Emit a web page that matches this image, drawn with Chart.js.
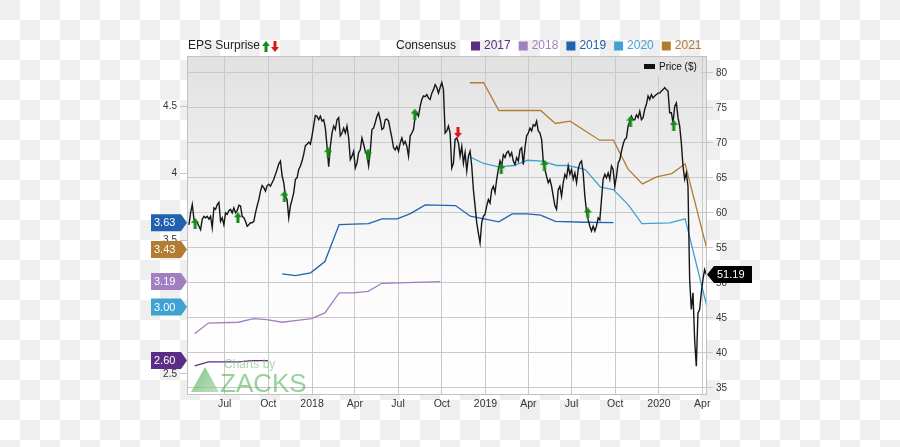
<!DOCTYPE html>
<html>
<head>
<meta charset="utf-8">
<script src="https://cdn.jsdelivr.net/npm/chart.js@4.4.0/dist/chart.umd.min.js"></script>
<style>
  html, body { margin: 0; padding: 0; background: #fff; }
  #wrap { width: 900px; height: 447px; }
</style>
</head>
<body>
<div id="wrap"><canvas id="chart" width="900" height="447"></canvas></div>
<script>
// ---- data ----
const axisStart = '2017-04-15';
const axisEnd = '2020-04-11';

const monthTickDates = ['2017-07-01','2017-10-01','2018-01-01','2018-04-01','2018-07-01','2018-10-01',
  '2019-01-01','2019-04-01','2019-07-01','2019-10-01','2020-01-01','2020-04-01'];
const monthTickLabels = ['Jul','Oct','2018','Apr','Jul','Oct','2019','Apr','Jul','Oct','2020','Apr'];
const epsTicks = [2.5, 3, 3.5, 4, 4.5];
const priceTicks = [35, 40, 45, 50, 55, 60, 65, 70, 75, 80];

// price, sampled twice a week
const priceStart = '2017-04-17';
const priceStepDays = 3.5;
const prices = [
  58.3, 60.0, 61.2, 59.1, 58.8, 58.6, 58.1, 57.6, 59.1, 59.5,
  59.3, 59.5, 59.1, 59.5, 57.9, 60.7, 60.5, 61.2, 61.5, 58.8,
  59.3, 58.3, 60.0, 59.8, 60.3, 60.5, 60.0, 60.7, 60.0, 60.3,
  61.1, 61.0, 59.5, 59.3, 58.8, 58.1, 58.3, 58.6, 58.6, 58.8,
  60.0, 61.0, 61.9, 63.1, 63.9, 63.6, 63.1, 63.9, 64.1, 63.8,
  64.3, 64.8, 65.5, 66.2, 67.0, 67.4, 65.3, 64.3, 62.4, 61.9,
  59.3, 61.0, 61.9, 62.9, 64.8, 65.0, 66.2, 66.7, 67.4, 68.4,
  69.6, 69.8, 70.1, 69.8, 71.0, 72.5, 73.9,
  73.8, 73.3, 73.8, 73.1, 73.3, 72.1, 69.5, 66.6, 69.5, 71.4,
  72.4, 71.9, 73.3, 73.6, 71.0, 71.4, 72.1, 71.4, 72.4, 70.7,
  67.6, 68.1, 68.8, 66.4, 67.1, 68.6, 69.0, 70.7, 69.8, 68.8,
  68.3, 66.7, 68.8, 71.9, 72.1, 72.9, 73.8, 74.3, 73.3, 71.9,
  72.1, 73.3, 73.4, 73.1, 71.9, 70.7, 69.3, 69.0, 69.5, 68.8,
  70.0, 70.7, 69.8, 70.2, 69.5, 68.1, 71.0, 71.4, 71.9, 73.8,
  74.3, 73.8, 75.2, 76.2, 76.7, 76.6, 76.9, 76.4, 76.2, 77.1,
  77.6, 78.3, 77.9, 77.1, 77.9, 78.6, 77.6, 71.4, 71.7, 72.4,
  71.4, 66.4, 67.1, 70.5, 70.7, 70.0, 68.1, 69.5, 67.1, 68.6,
  66.0, 68.1, 68.8, 66.7, 63.3, 61.0, 58.6, 57.1, 55.7, 58.6,
  59.5, 59.8, 61.0, 61.9, 61.4, 63.3, 63.8, 62.9, 64.8, 66.2,
  67.4, 66.7, 68.3, 67.9, 68.6, 68.8, 68.1, 68.6, 67.4, 66.9,
  67.9, 67.4, 69.0, 69.3, 66.9, 69.3, 71.0, 71.4, 72.1, 71.7,
  72.6, 72.4, 73.1, 71.7, 71.4, 70.5, 67.4, 66.2, 65.2, 64.3,
  64.8, 63.8, 62.4, 61.0, 60.5, 63.3, 63.8, 62.4, 64.3, 65.5,
  65.0, 66.7, 65.5, 66.2, 64.8, 65.7, 64.3, 66.2,
  67.1, 67.4, 65.7, 62.4, 60.2, 59.0, 58.1, 57.4, 58.1, 57.4,
  58.1, 59.3, 59.0, 61.9, 64.8, 65.5, 65.0, 65.7, 64.8, 66.7,
  66.2, 63.8, 65.2, 67.1, 67.6, 68.8, 69.8, 70.5, 70.7, 72.4,
  73.1, 73.8, 73.3, 73.3, 74.0, 73.6, 74.5, 73.3, 73.6, 74.8,
  75.5, 76.7, 76.2, 76.9, 76.4, 76.7, 76.9, 77.1, 77.1, 77.4,
  77.6, 77.9, 77.6, 77.4, 74.3, 74.3, 72.9, 75.2, 75.7, 73.6,
  72.4, 70.0, 66.7, 64.8, 65.7, 63.8, 50.5, 46.2, 48.6, 41.9,
  38.1, 45.7, 46.2, 48.6, 50.5, 51.9, 51.19
];

// consensus EPS estimates per fiscal year
const cons2017Dates = ['2017-04-29','2017-05-28','2017-07-30','2017-08-28','2017-09-30'];
const cons2017Values = [2.56, 2.59, 2.59, 2.60, 2.60];

const cons2018Dates = ['2017-04-29','2017-05-28','2017-07-30','2017-08-31','2017-09-28','2017-10-30',
  '2017-12-01','2017-12-31','2018-01-28','2018-02-27','2018-03-29','2018-04-29','2018-05-28','2018-07-02','2018-09-28'];
const cons2018Values = [2.80, 2.88, 2.886, 2.913, 2.906, 2.886, 2.90, 2.913, 2.956, 3.105, 3.105, 3.117, 3.177, 3.18, 3.19];

const cons2019Dates = ['2017-10-30','2017-11-27','2017-12-29','2018-01-28','2018-02-27','2018-04-30','2018-05-28',
  '2018-06-29','2018-07-27','2018-08-27','2018-10-30','2018-11-30','2019-01-29','2019-02-26','2019-03-29',
  '2019-04-27','2019-05-28','2019-07-27','2019-09-27'];
const cons2019Values = [3.247, 3.235, 3.255, 3.34, 3.616, 3.623, 3.658, 3.658, 3.698, 3.763, 3.758, 3.678,
  3.636, 3.696, 3.696, 3.686, 3.64, 3.633, 3.63];

const cons2020Dates = ['2018-11-29','2018-12-28','2019-01-29','2019-03-01','2019-03-30','2019-04-29','2019-05-31',
  '2019-06-24','2019-07-30','2019-08-31','2019-09-27','2019-10-28','2019-11-26','2020-01-24','2020-02-25','2020-04-11'];
const cons2020Values = [4.122, 4.072, 4.047, 4.057, 4.096, 4.089, 4.057, 4.057, 4.027, 3.895, 3.877, 3.765,
  3.623, 3.628, 3.658, 3.00];

const cons2021Dates = ['2018-11-29','2018-12-28','2019-01-29','2019-04-27','2019-05-28','2019-06-28','2019-08-29',
  '2019-09-27','2019-10-28','2019-11-27','2019-12-27','2020-01-28','2020-02-25','2020-04-11'];
const cons2021Values = [4.675, 4.675, 4.468, 4.468, 4.371, 4.388, 4.246, 4.246, 4.03, 3.92, 3.972, 3.997, 4.07, 3.43];

const consensusYears = ['2017', '2018', '2019', '2020', '2021'];
const consensusColors = ['#5b2d84', '#a27fc1', '#2062b0', '#3fa2d0', '#b27c33'];

// EPS surprise markers (beat = up arrow, miss = down arrow)
const surpriseDates = ['2017-04-30','2017-07-29','2017-11-04','2018-02-04','2018-04-29','2018-08-05',
  '2018-11-04','2019-02-03','2019-05-05','2019-08-04','2019-11-02','2020-02-01'];
const surpriseLevels = [58.5, 59.3, 62.4, 68.6, 68.4, 74.1, 71.5, 66.3, 66.8, 60.0, 73.1, 72.5];
const surpriseBeat = [true, true, true, true, true, true, false, true, true, true, true, true];

// ---- helpers ----
const DAY = 864e5;
const t = s => Date.parse(s);
const FONT = "'Liberation Sans', Arial, sans-serif";
Chart.defaults.font.family = FONT;

function arrowIcon(up, color) {
  const c = document.createElement('canvas');
  c.width = 8; c.height = 11;
  const g = c.getContext('2d');
  g.fillStyle = color;
  g.beginPath();
  if (up) {
    g.moveTo(4, 0); g.lineTo(8, 5); g.lineTo(5.5, 5); g.lineTo(5.5, 11);
    g.lineTo(2.5, 11); g.lineTo(2.5, 5); g.lineTo(0, 5);
  } else {
    g.moveTo(4, 11); g.lineTo(8, 6); g.lineTo(5.5, 6); g.lineTo(5.5, 0);
    g.lineTo(2.5, 0); g.lineTo(2.5, 6); g.lineTo(0, 6);
  }
  g.closePath();
  g.fill();
  return c;
}
const upArrow = arrowIcon(true, '#168a16');
const downArrow = arrowIcon(false, '#e3141b');

const consensusData = [
  [cons2017Dates, cons2017Values], [cons2018Dates, cons2018Values], [cons2019Dates, cons2019Values],
  [cons2020Dates, cons2020Values], [cons2021Dates, cons2021Values]
];

const datasets = [];
datasets.push({
  label: 'EPS Surprise',
  type: 'scatter',
  yAxisID: 'price',
  data: surpriseDates.map((d, i) => ({ x: t(d), y: surpriseLevels[i] })),
  pointStyle: surpriseBeat.map(b => b ? upArrow : downArrow),
  pointRadius: 6,
  order: 0
});
datasets.push({
  label: 'Price ($)',
  yAxisID: 'price',
  data: prices.map((v, i) => ({ x: t(priceStart) + i * priceStepDays * DAY, y: v })),
  borderColor: '#161616',
  borderWidth: 1.4,
  pointRadius: 0,
  tension: 0,
  order: 1
});
consensusData.forEach(([dates, vals], i) => {
  datasets.push({
    label: consensusYears[i],
    yAxisID: 'eps',
    data: dates.map((d, j) => ({ x: t(d), y: vals[j] })),
    borderColor: consensusColors[i],
    borderWidth: 1.3,
    pointRadius: 0,
    tension: 0,
    order: 2
  });
});

// ---- drawing extras: background, header, badges, watermark ----
const decor = {
  id: 'decor',
  beforeDraw(chart) {
    const { ctx, chartArea: a, width, height } = chart;
    ctx.save();
    ctx.fillStyle = '#ffffff';
    ctx.fillRect(0, 0, width, height);
    ctx.fillStyle = '#efefef';
    for (let r = 0; r * 20 < height; r++) {
      for (let c = 0; c * 20 < width; c++) {
        if ((r + c) % 2 === 0) ctx.fillRect(c * 20, r * 20, 20, 20);
      }
    }
    const grad = ctx.createLinearGradient(0, a.top, 0, a.bottom);
    grad.addColorStop(0, '#e1e1e1');
    grad.addColorStop(0.65, '#fcfcfc');
    grad.addColorStop(1, '#ffffff');
    ctx.fillStyle = grad;
    ctx.fillRect(a.left, a.top, a.right - a.left, a.bottom - a.top);
    ctx.restore();
  },
  beforeDatasetsDraw(chart) {
    const { ctx, chartArea: a } = chart;
    // price legend box inside the plot
    ctx.save();
    ctx.fillStyle = '#e3e3e3';
    ctx.fillRect(a.right - 67, a.top + 1, 61, 19);
    ctx.fillStyle = '#111';
    ctx.fillRect(a.right - 63, a.top + 8, 11, 5);
    ctx.font = '10px ' + FONT;
    ctx.textBaseline = 'middle';
    ctx.fillText('Price ($)', a.right - 48, a.top + 11);
    ctx.restore();
  },
  afterDraw(chart) {
    const { ctx, chartArea: a, scales } = chart;
    ctx.save();
    // frame
    ctx.strokeStyle = '#c2c2c2';
    ctx.lineWidth = 1;
    ctx.strokeRect(a.left - 0.5, a.top + 0.5, a.right - a.left, a.bottom - a.top);

    // header
    ctx.textBaseline = 'middle';
    ctx.font = '12px ' + FONT;
    ctx.fillStyle = '#222';
    ctx.fillText('EPS Surprise', a.left, 46);
    ctx.drawImage(upArrow, 262, 41);
    ctx.drawImage(downArrow, 271, 41);
    ctx.fillText('Consensus', 396, 46);
    let x = 471;
    consensusYears.forEach((y, i) => {
      ctx.fillStyle = consensusColors[i];
      ctx.fillRect(x, 41.5, 9, 9);
      ctx.fillText(y, x + 13, 46);
      x += 13 + ctx.measureText(y).width + 8;
    });

    // watermark
    ctx.globalAlpha = 0.65;
    const wg = ctx.createLinearGradient(192, 368, 218, 392);
    wg.addColorStop(0, '#3fa646');
    wg.addColorStop(1, '#9ad39c');
    ctx.fillStyle = wg;
    ctx.beginPath();
    ctx.moveTo(205, 367); ctx.lineTo(219, 392); ctx.lineTo(191, 392); ctx.closePath();
    ctx.fill();
    ctx.fillStyle = '#7fbf82';
    ctx.font = '12px ' + FONT;
    ctx.textBaseline = 'alphabetic';
    ctx.fillText('Charts by', 224, 368);
    ctx.fillStyle = '#5fb865';
    ctx.font = '26px ' + FONT;
    ctx.fillText('ZACKS', 220, 392);
    ctx.globalAlpha = 1;

    // left badges: latest consensus value per year
    ctx.font = '11px ' + FONT;
    ctx.textBaseline = 'middle';
    consensusData.forEach(([dates, vals], i) => {
      const v = vals[vals.length - 1];
      const y = scales.eps.getPixelForValue(v);
      const x0 = a.left - 37, x1 = a.left - 7, tip = a.left - 1, h = 8.5;
      ctx.fillStyle = consensusColors[i];
      ctx.beginPath();
      ctx.moveTo(x0, y - h); ctx.lineTo(x1, y - h); ctx.lineTo(tip, y);
      ctx.lineTo(x1, y + h); ctx.lineTo(x0, y + h); ctx.closePath();
      ctx.fill();
      ctx.fillStyle = '#fff';
      ctx.fillText(v.toFixed(2), x0 + 3, y + 0.5);
    });

    // right badge: last price
    const last = prices[prices.length - 1];
    const py = scales.price.getPixelForValue(last);
    const r0 = a.right, r1 = a.right + 7, r2 = a.right + 45, h = 8.5;
    ctx.fillStyle = '#000';
    ctx.beginPath();
    ctx.moveTo(r0, py); ctx.lineTo(r1, py - h); ctx.lineTo(r2, py - h);
    ctx.lineTo(r2, py + h); ctx.lineTo(r1, py + h); ctx.closePath();
    ctx.fill();
    ctx.fillStyle = '#fff';
    ctx.fillText(last.toFixed(2), r1 + 3, py + 0.5);
    ctx.restore();
  }
};

new Chart(document.getElementById('chart'), {
  type: 'line',
  data: { datasets },
  options: {
    responsive: false,
    animation: false,
    devicePixelRatio: 1,
    layout: { padding: { top: 56, left: 0, right: 0, bottom: 0 } },
    plugins: { legend: { display: false }, tooltip: { enabled: false } },
    scales: {
      x: {
        type: 'linear',
        min: t(axisStart),
        max: t(axisEnd),
        afterBuildTicks: s => { s.ticks = monthTickDates.map(d => ({ value: t(d) })); },
        afterFit: s => { s.height = 53; },
        border: { display: false },
        grid: { color: '#c9c9c9', drawTicks: false },
        ticks: {
          callback: (v, i) => monthTickLabels[i],
          autoSkip: false, maxRotation: 0, padding: 4,
          color: '#333', font: { size: 10.5 }
        }
      },
      eps: {
        type: 'linear',
        position: 'left',
        min: 2.35,
        max: 4.875,
        afterBuildTicks: s => { s.ticks = epsTicks.map(v => ({ value: v })); },
        afterFit: s => { s.width = 188; },
        border: { display: false },
        grid: { drawOnChartArea: false, tickLength: 8, color: '#c4c4c4' },
        ticks: { padding: 3, color: '#333', font: { size: 10 }, callback: v => String(v) }
      },
      price: {
        type: 'linear',
        position: 'right',
        min: 34.14,
        max: 82.4,
        afterBuildTicks: s => { s.ticks = priceTicks.map(v => ({ value: v })); },
        afterFit: s => { s.width = 193; },
        border: { display: false },
        grid: { color: '#c9c9c9', tickLength: 6 },
        ticks: { padding: 3, color: '#333', font: { size: 10 }, callback: v => String(v) }
      }
    }
  },
  plugins: [decor]
});
</script>
</body>
</html>
